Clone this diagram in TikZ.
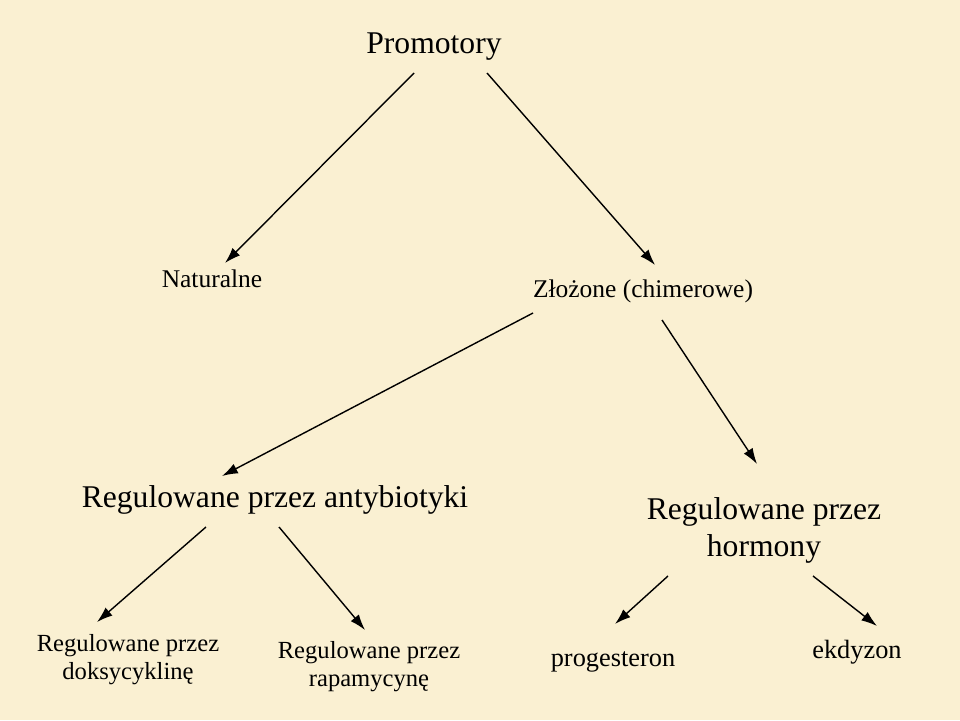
\documentclass[tikz,border=0pt]{standalone}
\usepackage{fontspec}
\setmainfont{Liberation Serif}
\usetikzlibrary{arrows.meta}
\definecolor{parch}{HTML}{FAF0D2}
\tikzset{
  lbl/.style={inner sep=1pt, align=center},
  arr/.style={-{Latex[length=9pt,width=6pt]}, line width=0.8pt}
}
\begin{document}
\begin{tikzpicture}[x=0.02cm,y=-0.02cm]
\fill[parch] (0,0) rectangle (960,720);
\useasboundingbox (0,0) rectangle (960,720);
% nodes
\node[lbl, font=\fontsize{18}{21}\selectfont] (prom) at (434,47) {Promotory};
\node[lbl, font=\fontsize{14.5}{16}\selectfont] (nat) at (212,279) {Naturalne};
\node[lbl, font=\fontsize{14.5}{16}\selectfont] (zloz) at (643,291) {Złożone (chimerowe)};
\node[lbl, font=\fontsize{18}{21}\selectfont] (anty) at (275,500) {Regulowane przez antybiotyki};
\node[lbl, font=\fontsize{18}{21}\selectfont] (horm) at (764,530) {Regulowane przez\\hormony};
\node[lbl, font=\fontsize{14}{16}\selectfont] (doks) at (128,660) {Regulowane przez\\doksycyklinę};
\node[lbl, font=\fontsize{14}{16}\selectfont] (rapa) at (369,667) {Regulowane przez\\rapamycynę};
\node[lbl, font=\fontsize{15}{17}\selectfont] (prog) at (613,662) {progesteron};
\node[lbl, font=\fontsize{15}{17}\selectfont] (ekdy) at (857,652) {ekdyzon};
% connector ends
\coordinate (p1) at (414,73);  \coordinate (n1) at (225,263);
\coordinate (p2) at (487,73);  \coordinate (z1) at (655,265);
\coordinate (z2) at (533,313); \coordinate (a1) at (222,476);
\coordinate (z3) at (662,320); \coordinate (h1) at (757,464);
\coordinate (a2) at (206,527); \coordinate (d1) at (97,622);
\coordinate (a3) at (279,527); \coordinate (r1) at (365,630);
\coordinate (h2) at (668,576); \coordinate (g1) at (615,624);
\coordinate (h3) at (813,576); \coordinate (e1) at (877,626);
\foreach \s/\t in {p1/n1,p2/z1,z2/a1,z3/h1,a2/d1,a3/r1,h2/g1,h3/e1}
  \draw[arr] (\s) -- (\t);
\end{tikzpicture}
\end{document}
